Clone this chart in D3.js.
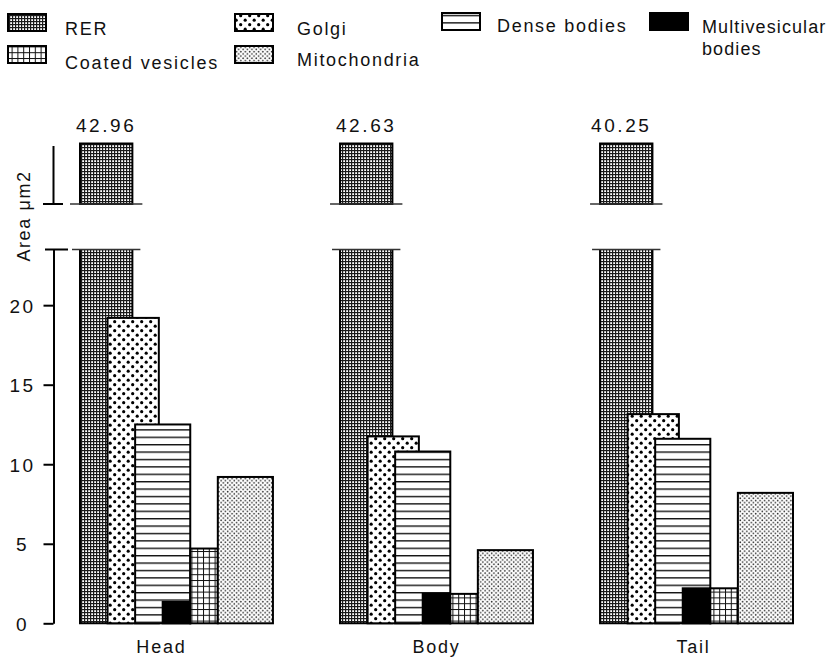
<!DOCTYPE html>
<html><head><meta charset="utf-8">
<script src="https://cdn.jsdelivr.net/npm/d3@7/dist/d3.min.js"></script>
<style>
body{margin:0;background:#fff;}
svg{display:block;font-family:"Liberation Sans",Arial,sans-serif;}
</style></head>
<body>
<svg id="chart" width="830" height="658"></svg>
<script>
// ---- data ----
const categories = ["Head", "Body", "Tail"];
const series = ["RER", "Golgi", "Dense bodies", "Multivesicular bodies", "Coated vesicles", "Mitochondria"];
const rer = [42.96, 42.63, 40.25];
const golgi = [19.2, 11.75, 13.15];
const denseBodies = [12.5, 10.8, 11.6];
const multivesicular = [1.35, 1.85, 2.2];
const coatedVesicles = [4.7, 1.85, 2.2];
const mitochondria = [9.2, 4.6, 8.2];
const valueLabels = ["42.96", "42.63", "40.25"];
const yTicks = [0, 5, 10, 15, 20];

const values = [rer, golgi, denseBodies, multivesicular, coatedVesicles, mitochondria];

// ---- layout ----
const svg = d3.select("#chart");
const defs = svg.append("defs");

function pat(id, w, h, draw) {
  const p = defs.append("pattern").attr("id", id).attr("patternUnits", "userSpaceOnUse")
    .attr("width", w).attr("height", h);
  p.append("rect").attr("width", w).attr("height", h).attr("fill", "#fff");
  draw(p);
}
pat("pRER", 3, 3, p => {
  p.append("rect").attr("x", 0).attr("y", 0).attr("width", 3).attr("height", 1.2).attr("fill", "#1a1a1a");
  p.append("rect").attr("x", 0).attr("y", 0).attr("width", 1.2).attr("height", 3).attr("fill", "#1a1a1a");
});
pat("pGolgi", 9, 9, p => {
  p.append("circle").attr("cx", 2.2).attr("cy", 2.2).attr("r", 1.6).attr("fill", "#000");
  p.append("circle").attr("cx", 6.7).attr("cy", 6.7).attr("r", 1.6).attr("fill", "#000");
});
pat("pDense", 10, 7.4, p => {
  p.append("rect").attr("x", 0).attr("y", 0).attr("width", 10).attr("height", 1.4).attr("fill", "#111");
});
pat("pCoated", 5.8, 5.8, p => {
  p.append("rect").attr("x", 0).attr("y", 0).attr("width", 5.8).attr("height", 1).attr("fill", "#111");
  p.append("rect").attr("x", 0).attr("y", 0).attr("width", 1).attr("height", 5.8).attr("fill", "#111");
});
pat("pMito", 4.4, 4.4, p => {
  p.append("circle").attr("cx", 1.1).attr("cy", 1.1).attr("r", 0.85).attr("fill", "#333");
  p.append("circle").attr("cx", 3.3).attr("cy", 3.3).attr("r", 0.85).attr("fill", "#333");
});
const fills = ["url(#pRER)", "url(#pGolgi)", "url(#pDense)", "#000", "url(#pCoated)", "url(#pMito)"];
const slotStart = [0, 1, 2, 3, 4, 5];
const slotSpan = [1.9, 1.86, 2, 1, 1, 2];

const x = d3.scaleBand().domain(categories).range([80, 793]).paddingInner(0.258).paddingOuter(0);
const slot = () => x.bandwidth() / 7;
const y = d3.scaleLinear().domain([0, 23.5]).range([623.3, 249.5]);
const yTop = d3.scaleLinear().domain([38, 40]).range([204, 143.5]).clamp(true);
const breakVal = 23.5;
const axisX = 53.5;
const FONT = 18;

const g = svg.append("g");
series.forEach((s, si) => {
  categories.forEach((c, ci) => {
    const v = values[si][ci];
    const x0 = x(c) + slotStart[si] * slot();
    const w = slotSpan[si] * slot();
    if (v > breakVal) {
      g.append("rect").attr("x", x0).attr("y", y(breakVal)).attr("width", w)
        .attr("height", y(0) - y(breakVal)).attr("fill", fills[si]);
      g.append("path").attr("d", `M${x0},${y(breakVal)}V${y(0)}H${x0 + w}V${y(breakVal)}`)
        .attr("fill", "none").attr("stroke", "#000").attr("stroke-width", 2);
      g.append("rect").attr("x", x0).attr("y", yTop(v)).attr("width", w)
        .attr("height", yTop(38) - yTop(v)).attr("fill", fills[si])
        .attr("stroke", "#000").attr("stroke-width", 2);
      g.append("line").attr("x1", x0 - 10).attr("x2", x0 + w + 10)
        .attr("y1", yTop(38)).attr("y2", yTop(38)).attr("stroke", "#333").attr("stroke-width", 1.6);
      g.append("line").attr("x1", x0 - 8).attr("x2", x0 + w + 8)
        .attr("y1", y(breakVal)).attr("y2", y(breakVal)).attr("stroke", "#333").attr("stroke-width", 1.6);
      g.append("text").attr("x", x0 + w / 2 - (ci === 2 ? 5 : 0)).attr("y", yTop(v) - 12)
        .attr("text-anchor", "middle").attr("font-size", 19).attr("letter-spacing", 2.6)
        .attr("fill", "#111").text(valueLabels[ci]);
    } else {
      g.append("rect").attr("x", x0).attr("y", y(v)).attr("width", w)
        .attr("height", y(0) - y(v)).attr("fill", fills[si])
        .attr("stroke", "#000").attr("stroke-width", 2);
    }
  });
});

// y axis (lower)
const ax = svg.append("g").attr("transform", `translate(${axisX},0)`)
  .call(d3.axisLeft(y).tickValues(yTicks).tickSize(10).tickSizeOuter(0).tickPadding(0));
ax.select(".domain").attr("stroke", "#000").attr("stroke-width", 2);
ax.selectAll(".tick line").attr("stroke", "#000").attr("stroke-width", 2);
ax.selectAll(".tick text").attr("x", -31).attr("text-anchor", "middle").attr("dy", "0.36em")
  .attr("font-size", 19).attr("letter-spacing", 2.5).attr("fill", "#111")
  .attr("font-family", '"Liberation Sans",Arial,sans-serif');
svg.append("line").attr("x1", 45).attr("x2", 68).attr("y1", y(breakVal)).attr("y2", y(breakVal))
  .attr("stroke", "#000").attr("stroke-width", 2);
svg.append("line").attr("x1", axisX).attr("x2", axisX).attr("y1", 146).attr("y2", yTop(38))
  .attr("stroke", "#000").attr("stroke-width", 2);
svg.append("line").attr("x1", 43).attr("x2", 63).attr("y1", yTop(38)).attr("y2", yTop(38))
  .attr("stroke", "#000").attr("stroke-width", 2);

// y axis title
svg.append("text").attr("transform", "translate(30,216) rotate(-90)")
  .attr("text-anchor", "middle").attr("font-size", FONT).attr("letter-spacing", 1.6)
  .attr("fill", "#111").text("Area \u03bcm2");

// category labels
const labelNudge = {Head: -15, Body: 0, Tail: -3};
svg.append("g").selectAll("text").data(categories).join("text")
  .attr("x", d => x(d) + x.bandwidth() / 2 + labelNudge[d]).attr("y", 653)
  .attr("text-anchor", "middle").attr("font-size", FONT).attr("letter-spacing", 1.8)
  .attr("fill", "#111").text(d => d);

// legend
const legendPos = [
  {sx: 8, sy: 14, tx: 65, ty: 35, ls: 1.7},
  {sx: 235, sy: 14, tx: 297, ty: 35, ls: 1.7},
  {sx: 442, sy: 13, tx: 497, ty: 32, ls: 1.7},
  {sx: 650, sy: 13, tx: 702, ty: 33, ls: 1.1},
  {sx: 8, sy: 46, tx: 65, ty: 69, ls: 1.8},
  {sx: 235, sy: 46, tx: 297, ty: 66, ls: 1.7}
];
const legendLines = [["RER"], ["Golgi"], ["Dense bodies"], ["Multivesicular", "bodies"], ["Coated vesicles"], ["Mitochondria"]];
const lg = svg.append("g");
series.forEach((s, i) => {
  const p = legendPos[i];
  lg.append("rect").attr("x", p.sx).attr("y", p.sy).attr("width", 38).attr("height", 17)
    .attr("fill", fills[i]).attr("stroke", "#000").attr("stroke-width", 2);
  const t = lg.append("text").attr("x", p.tx).attr("y", p.ty).attr("font-size", FONT)
    .attr("letter-spacing", p.ls).attr("fill", "#111");
  legendLines[i].forEach((ln, k) => {
    t.append("tspan").attr("x", p.tx).attr("dy", k === 0 ? 0 : 22).text(ln);
  });
});
</script>
</body></html>
